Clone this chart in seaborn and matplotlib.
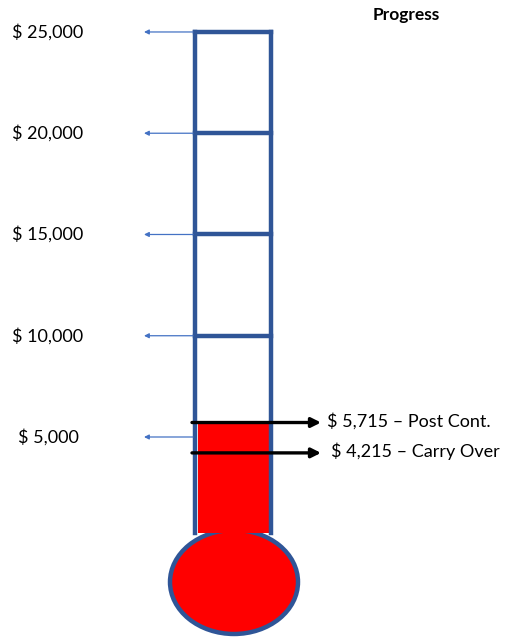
import matplotlib
matplotlib.use("Agg")
import matplotlib.pyplot as plt
from matplotlib.patches import Ellipse, Rectangle
import seaborn as sns

# ---- data ----
tick_values = [25000, 20000, 15000, 10000, 5000]
tick_labels = ["$ 25,000", "$ 20,000", "$ 15,000", "$ 10,000", "$ 5,000"]
marker_values = [5715, 4215]
marker_labels = ["$ 5,715 \u2013 Post Cont.", "$ 4,215 \u2013 Carry Over"]
progress_value = 5715
title = "Progress"

sns.set_theme(style="white")
plt.rcParams['font.family'] = ['Lato', 'DejaVu Sans']

BLUE = "#2F5597"
LIGHT = "#4472C4"
RED = "#FF0000"

fig = plt.figure(figsize=(5.06, 6.39), dpi=100)
ax = fig.add_axes([0, 0, 1, 1])
ax.set_xlim(0, 506)
ax.set_ylim(-4975, 26579)
ax.axis("off")

px = 49.38  # dollars per pixel vertically
top = max(tick_values)
tube_bottom = 250
xl, xr = 195, 271.5

# bulb
bulb = Ellipse((234, -2160), width=128, height=104 * px, facecolor=RED,
               edgecolor=BLUE, linewidth=3.2, zorder=2)
ax.add_patch(bulb)

# red fill in tube
ax.add_patch(Rectangle((198.5, tube_bottom), 269.5 - 198.5, progress_value - tube_bottom,
                       facecolor=RED, edgecolor="none", zorder=3))

# tube outline
ax.plot([xl, xl], [tube_bottom, top], color=BLUE, lw=3.2, zorder=4, solid_capstyle="projecting")
ax.plot([xr, xr], [tube_bottom, top], color=BLUE, lw=3.2, zorder=4, solid_capstyle="projecting")
for v in tick_values:
    if v > progress_value:
        ax.plot([xl, xr], [v, v], color=BLUE, lw=3.2, zorder=4, solid_capstyle="projecting")

# tick arrows and labels
for v, lab in zip(tick_values, tick_labels):
    ax.annotate("", xy=(144, v), xytext=(193, v),
                arrowprops=dict(arrowstyle="-|>", color=LIGHT, lw=0.9,
                                mutation_scale=7, shrinkA=0, shrinkB=0), zorder=5)
    ax.text(48, v, lab, ha="center", va="center", fontsize=13, color="black")

# marker arrows and labels
label_x = [327, 331]
for v, lab, lx in zip(marker_values, marker_labels, label_x):
    ax.annotate("", xy=(321, v), xytext=(192, v),
                arrowprops=dict(arrowstyle="-|>", color="black", lw=2.4,
                                mutation_scale=14, shrinkA=0, shrinkB=0), zorder=6)
    ax.text(lx, v + 1.5 * px, lab, ha="left", va="center", fontsize=13, color="black")

ax.text(406, 26579 - 15 * px, title, ha="center", va="center", fontsize=12.5,
        fontweight="bold", color="black")

fig.savefig("out.png", dpi=100)
